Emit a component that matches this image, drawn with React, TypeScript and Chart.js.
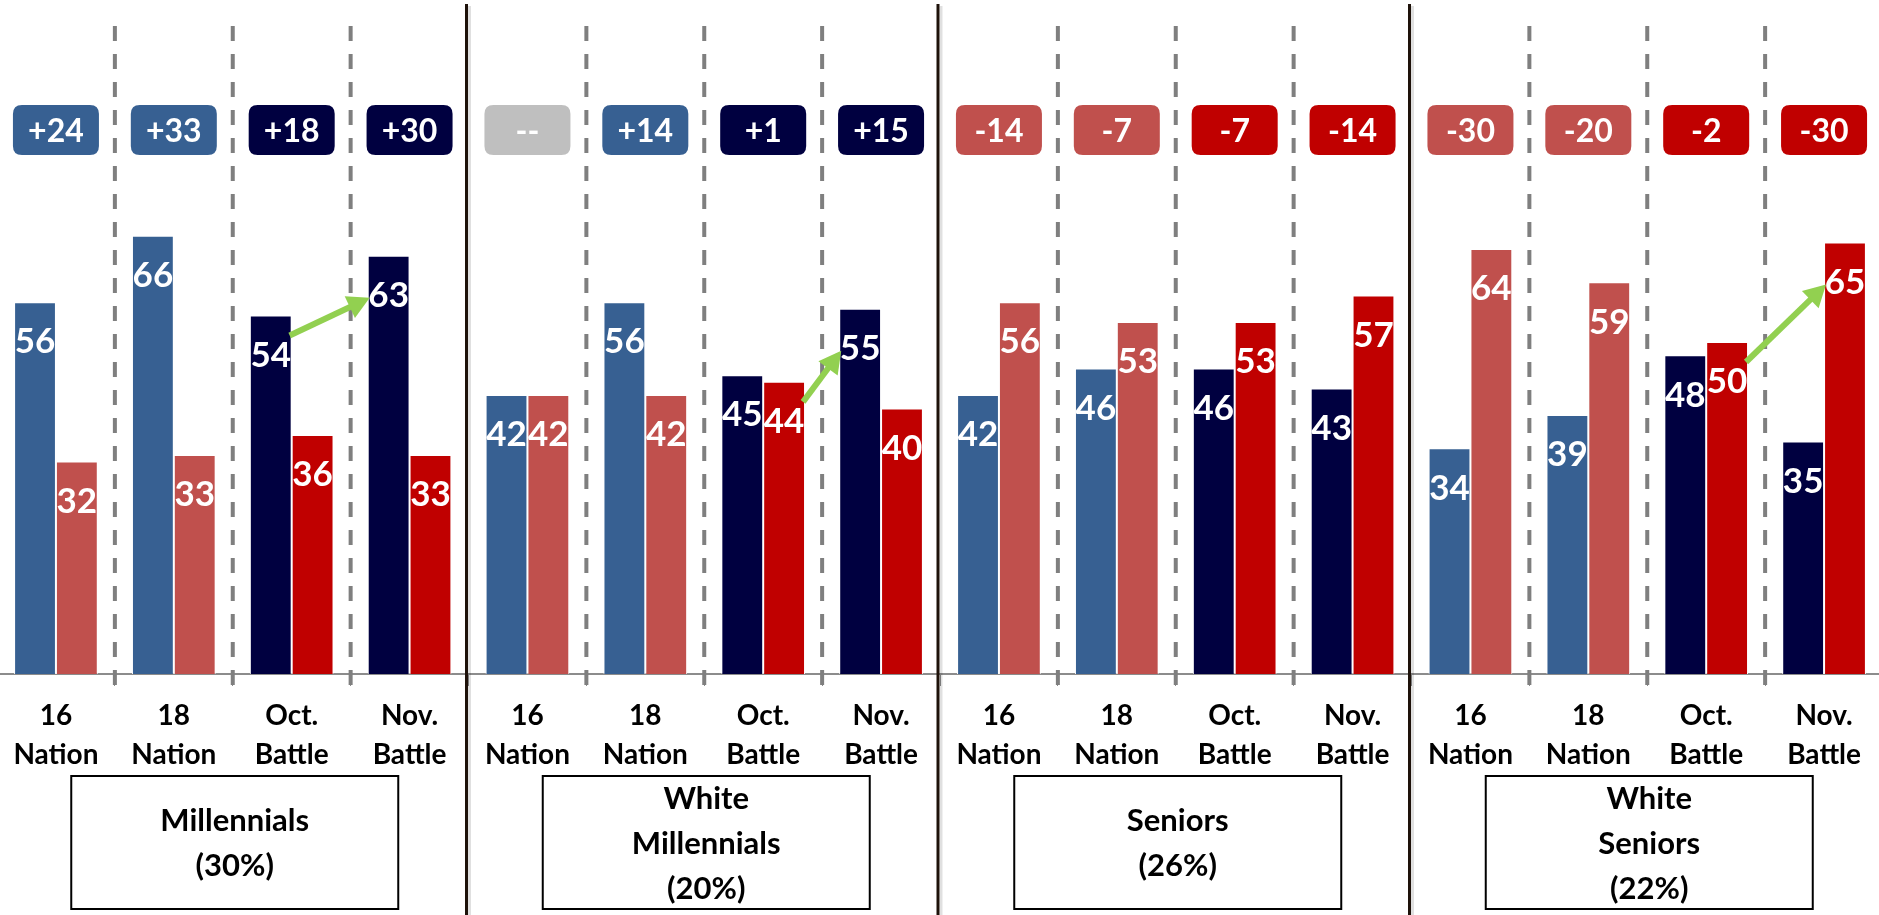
import React, { useEffect, useRef } from 'react';
import { Chart, registerables } from 'chart.js';

Chart.register(...registerables);

// ---- data ----
const periodLabels: string[][] = [
  ['16', 'Nation'],
  ['18', 'Nation'],
  ['Oct.', 'Battle'],
  ['Nov.', 'Battle'],
];
const periodIsBattle = [false, false, true, true];
const groupNames: string[][] = [
  ['Millennials', '(30%)'],
  ['White', 'Millennials', '(20%)'],
  ['Seniors', '(26%)'],
  ['White', 'Seniors', '(22%)'],
];
const categories: string[][] = groupNames.flatMap(() => periodLabels);

const demValues = [56, 66, 54, 63, 42, 56, 45, 55, 42, 46, 46, 43, 34, 39, 48, 35];
const repValues = [32, 33, 36, 33, 42, 42, 44, 40, 56, 53, 53, 57, 64, 59, 50, 65];
const marginLabels = [
  '+24', '+33', '+18', '+30',
  '--', '+14', '+1', '+15',
  '-14', '-7', '-7', '-14',
  '-30', '-20', '-2', '-30',
];
// [fromCategory, fromDataset, toCategory, toDataset]  (dataset 0 = Dem, 1 = Rep)
const arrows: number[][] = [
  [2, 0, 3, 0],
  [6, 1, 7, 0],
  [14, 1, 15, 1],
];

// ---- styles ----
const FONT = 'Lato, "Open Sans", sans-serif';
const DEM_LIGHT = '#376092';
const DEM_DARK = '#000040';
const REP_LIGHT = '#C0504D';
const REP_DARK = '#C00000';
const NEUTRAL = '#BFBFBF';
const ARROW = '#92D050';

const isBattle = (i: number) => periodIsBattle[i % periodLabels.length];
const demColors = categories.map((_, i) => (isBattle(i) ? DEM_DARK : DEM_LIGHT));
const repColors = categories.map((_, i) => (isBattle(i) ? REP_DARK : REP_LIGHT));

function badgeColor(i: number) {
  const d = demValues[i] - repValues[i];
  if (d === 0) return NEUTRAL;
  if (d > 0) return isBattle(i) ? DEM_DARK : DEM_LIGHT;
  return isBattle(i) ? REP_DARK : REP_LIGHT;
}

function roundRect(ctx: CanvasRenderingContext2D, x: number, y: number, w: number, h: number, r: number) {
  ctx.beginPath();
  ctx.moveTo(x + r, y);
  ctx.lineTo(x + w - r, y);
  ctx.quadraticCurveTo(x + w, y, x + w, y + r);
  ctx.lineTo(x + w, y + h - r);
  ctx.quadraticCurveTo(x + w, y + h, x + w - r, y + h);
  ctx.lineTo(x + r, y + h);
  ctx.quadraticCurveTo(x, y + h, x, y + h - r);
  ctx.lineTo(x, y + r);
  ctx.quadraticCurveTo(x, y, x + r, y);
  ctx.closePath();
}

const decorPlugin = {
  id: 'decor',
  beforeDatasetsDraw(chart: any) {
    const ctx: CanvasRenderingContext2D = chart.ctx;
    const xs = chart.scales.x;
    const n = categories.length;
    const per = periodLabels.length;
    ctx.save();
    ctx.strokeStyle = '#7F7F7F';
    ctx.lineWidth = 4;
    ctx.setLineDash([15, 13]);
    for (let i = 0; i < n - 1; i++) {
      if ((i + 1) % per === 0) continue;
      const bx = (xs.getPixelForValue(i) + xs.getPixelForValue(i + 1)) / 2;
      ctx.beginPath();
      ctx.moveTo(bx, 26);
      ctx.lineTo(bx, chart.chartArea.bottom + 12);
      ctx.stroke();
    }
    ctx.restore();
  },
  afterDatasetsDraw(chart: any) {
    const ctx: CanvasRenderingContext2D = chart.ctx;
    const xs = chart.scales.x;
    const n = categories.length;
    const per = periodLabels.length;
    const metas = [chart.getDatasetMeta(0), chart.getDatasetMeta(1)];

    // bar value labels
    ctx.save();
    ctx.fillStyle = '#FFFFFF';
    ctx.font = `bold 35px ${FONT}`;
    ctx.textAlign = 'center';
    ctx.textBaseline = 'middle';
    metas.forEach((meta: any, d: number) => {
      const vals = d === 0 ? demValues : repValues;
      meta.data.forEach((bar: any, i: number) => {
        ctx.fillText(String(vals[i]), bar.x, bar.y + 40);
      });
    });
    ctx.restore();

    // margin badges
    ctx.save();
    ctx.font = `bold 32px ${FONT}`;
    ctx.textAlign = 'center';
    ctx.textBaseline = 'middle';
    for (let i = 0; i < n; i++) {
      const cx = xs.getPixelForValue(i);
      const w = 86, h = 50, top = 105;
      ctx.fillStyle = badgeColor(i);
      roundRect(ctx, cx - w / 2, top, w, h, 9);
      ctx.fill();
      ctx.fillStyle = '#FFFFFF';
      ctx.fillText(marginLabels[i], cx, top + h / 2 + 2);
    }
    ctx.restore();

    // green arrows
    ctx.save();
    ctx.fillStyle = ARROW;
    ctx.strokeStyle = ARROW;
    arrows.forEach(([fi, fd, ti, td]) => {
      const fb = metas[fd].data[fi];
      const tb = metas[td].data[ti];
      const sx = fb.x + fb.width / 2 - 2;
      const sy = fb.y + 20;
      const ex = tb.x - tb.width / 2 + 2;
      const ey = tb.y + 42;
      const ang = Math.atan2(ey - sy, ex - sx);
      const hl = 22, hw = 12;
      const c = Math.cos(ang), s = Math.sin(ang);
      const bx = ex - hl * c, by = ey - hl * s;
      ctx.lineWidth = 6;
      ctx.beginPath();
      ctx.moveTo(sx, sy);
      ctx.lineTo(bx + 2 * c, by + 2 * s);
      ctx.stroke();
      ctx.beginPath();
      ctx.moveTo(ex, ey);
      ctx.lineTo(bx + hw * s, by - hw * c);
      ctx.lineTo(bx - hw * s, by + hw * c);
      ctx.closePath();
      ctx.fill();
    });
    ctx.restore();

    // group separators
    ctx.save();
    for (let g = 1; g < groupNames.length; g++) {
      const i = g * per;
      const bx = (xs.getPixelForValue(i - 1) + xs.getPixelForValue(i)) / 2 - 2;
      ctx.strokeStyle = 'rgba(0,0,0,0.12)';
      ctx.lineWidth = 3;
      ctx.beginPath();
      ctx.moveTo(bx + 3, 6);
      ctx.lineTo(bx + 3, chart.height);
      ctx.stroke();
      ctx.strokeStyle = '#1E120A';
      ctx.lineWidth = 3;
      ctx.beginPath();
      ctx.moveTo(bx, 4);
      ctx.lineTo(bx, chart.height);
      ctx.stroke();
    }
    ctx.restore();

    // group name boxes
    ctx.save();
    groupNames.forEach((lines, g) => {
      const cx = (xs.getPixelForValue(g * per) + xs.getPixelForValue(g * per + per - 1)) / 2 + 2;
      const w = 327, top = 776, h = 133;
      ctx.fillStyle = '#FFFFFF';
      ctx.fillRect(cx - w / 2, top, w, h);
      ctx.strokeStyle = '#000000';
      ctx.lineWidth = 2;
      ctx.strokeRect(cx - w / 2, top, w, h);
      ctx.fillStyle = '#000000';
      ctx.font = `bold 31px ${FONT}`;
      ctx.textAlign = 'center';
      ctx.textBaseline = 'middle';
      const lh = 45;
      const mid = top + h / 2;
      const start = mid - ((lines.length - 1) * lh) / 2;
      lines.forEach((t, k) => ctx.fillText(t, cx, start + k * lh + 1));
    });
    ctx.restore();
  },
};

export default function App() {
  const ref = useRef<HTMLCanvasElement | null>(null);

  useEffect(() => {
    document.body.style.margin = '0';
    let chart: Chart | null = null;
    let cancelled = false;
    const make = () => {
      if (cancelled || !ref.current) return;
      chart = new Chart(ref.current, {
        type: 'bar',
        data: {
          labels: categories,
          datasets: [
            {
              label: 'Dem',
              data: demValues,
              backgroundColor: demColors,
              borderColor: '#FFFFFF',
              borderWidth: 1,
              barPercentage: 1,
              categoryPercentage: 0.71,
            },
            {
              label: 'Rep',
              data: repValues,
              backgroundColor: repColors,
              borderColor: '#FFFFFF',
              borderWidth: 1,
              barPercentage: 1,
              categoryPercentage: 0.71,
            },
          ],
        },
        options: {
          responsive: false,
          animation: false,
          devicePixelRatio: 1,
          layout: { padding: { top: 10, left: 0, right: 0, bottom: 0 } },
          plugins: {
            legend: { display: false },
            tooltip: { enabled: false },
          },
          scales: {
            x: {
              offset: true,
              grid: {
                display: true,
                offset: true,
                drawOnChartArea: false,
                drawTicks: true,
                tickLength: 12,
                color: '#8C8C8C',
                lineWidth: 1,
              },
              border: { display: true, color: '#8C8C8C', width: 2 },
              ticks: {
                color: '#000000',
                font: { family: FONT, weight: 'bold', size: 28, lineHeight: 1.4 },
                padding: 10,
                maxRotation: 0,
                minRotation: 0,
                autoSkip: false,
              },
              afterFit: (s: any) => {
                s.height = 241;
              },
            },
            y: { display: false, min: 0, max: 100 },
          },
        },
        plugins: [decorPlugin],
      });
    };
    const fonts: any = (document as any).fonts;
    if (fonts && fonts.load) {
      Promise.all([fonts.load(`bold 32px Lato`), fonts.load(`bold 28px Lato`)])
        .catch(() => {})
        .then(make);
    } else {
      make();
    }
    return () => {
      cancelled = true;
      if (chart) chart.destroy();
    };
  }, []);

  return (
    <div style={{ position: 'fixed', left: 0, top: 0, width: 1879, height: 915, overflow: 'hidden', background: '#FFFFFF' }}>
      <canvas
        ref={ref}
        width={1886}
        height={915}
        style={{ position: 'absolute', left: -3, top: 0, width: 1886, height: 915 }}
      />
    </div>
  );
}
